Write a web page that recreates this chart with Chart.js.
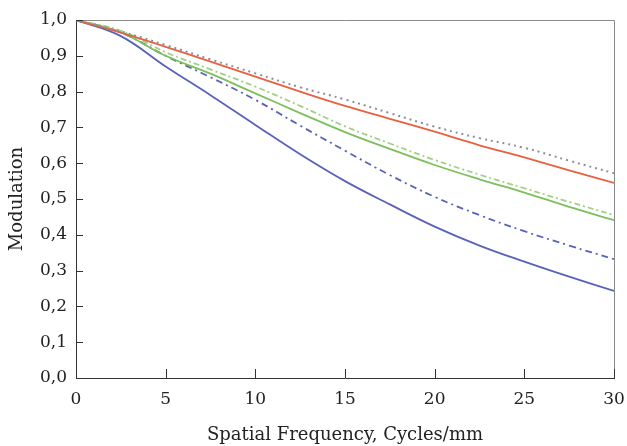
<!DOCTYPE html>
<html>
<head>
<meta charset="utf-8">
<script src="https://cdn.jsdelivr.net/npm/chart.js@4.4.1/dist/chart.umd.min.js"></script>
<style>
  html, body { margin: 0; padding: 0; background: #fff; }
  #wrap { width: 627px; height: 446px; }
</style>
</head>
<body>
<div id="wrap"><canvas id="mtf"></canvas></div>
<script>
// Datos
const frecuencias = [0, 2.5, 5, 7.5, 10, 12.5, 15, 17.5, 20, 22.5, 25, 27.5, 30];
const rojoSolido  = [1.0, 0.965, 0.925, 0.884, 0.842, 0.800, 0.760, 0.724, 0.688, 0.650, 0.616, 0.580, 0.545];
const grisPuntos  = [1.0, 0.968, 0.930, 0.890, 0.851, 0.812, 0.778, 0.740, 0.702, 0.670, 0.643, 0.607, 0.572];
const verdeSolido = [1.0, 0.965, 0.900, 0.850, 0.795, 0.740, 0.687, 0.640, 0.595, 0.555, 0.518, 0.478, 0.441];
const verdeGuion  = [1.0, 0.970, 0.910, 0.862, 0.814, 0.760, 0.703, 0.655, 0.609, 0.568, 0.530, 0.492, 0.455];
const azulGuion   = [1.0, 0.965, 0.900, 0.840, 0.777, 0.705, 0.635, 0.567, 0.506, 0.455, 0.410, 0.370, 0.332];
const azulSolido  = [1.0, 0.955, 0.870, 0.790, 0.707, 0.625, 0.550, 0.485, 0.423, 0.370, 0.325, 0.283, 0.243];
const ticksX = [0, 5, 10, 15, 20, 25, 30];

const puntos = (vals) => vals.map((v, i) => ({ x: frecuencias[i], y: v }));

const serie = (vals, color, dash, width) => ({
  data: puntos(vals),
  borderColor: color,
  borderWidth: width,
  borderDash: dash,
  pointRadius: 0,
  fill: false,
  tension: 0.4
});

const fuente = "'DejaVu Serif', serif";

// Marco gris arriba/derecha y marcas hacia dentro
const marco = {
  id: "marco",
  afterDraw(chart) {
    const { ctx, chartArea: a, scales } = chart;
    ctx.save();
    ctx.lineWidth = 1;
    ctx.strokeStyle = "#8a8a8a";
    ctx.beginPath();
    ctx.moveTo(a.left, a.top + 0.5);
    ctx.lineTo(a.right + 0.5, a.top + 0.5);
    ctx.lineTo(a.right + 0.5, a.bottom);
    ctx.stroke();
    ctx.strokeStyle = "#333";
    ctx.beginPath();
    scales.x.ticks.forEach(t => {
      const px = Math.round(scales.x.getPixelForValue(t.value)) + 0.5;
      ctx.moveTo(px, a.bottom);
      ctx.lineTo(px, a.bottom - 9);
    });
    scales.y.ticks.forEach(t => {
      const py = Math.round(scales.y.getPixelForValue(t.value)) + 0.5;
      ctx.moveTo(a.left, py);
      ctx.lineTo(a.left + 7, py);
    });
    ctx.stroke();
    ctx.restore();
  }
};

new Chart(document.getElementById("mtf"), {
  type: "line",
  data: {
    datasets: [
      serie(grisPuntos, "#8c8f99", [2, 4], 2),
      serie(rojoSolido, "#e8603f", [], 1.8),
      serie(verdeGuion, "#a3cf86", [6, 3, 2, 3], 1.8),
      serie(verdeSolido, "#7cbf5c", [], 1.8),
      serie(azulGuion, "#5a62b5", [7, 4, 2, 4], 1.8),
      serie(azulSolido, "#5a62b8", [], 1.8)
    ]
  },
  options: {
    responsive: true,
    maintainAspectRatio: false,
    animation: false,
    layout: { padding: { top: 20, right: 13, left: 0, bottom: 0 } },
    plugins: {
      legend: { display: false },
      tooltip: { enabled: false }
    },
    scales: {
      x: {
        type: "linear",
        min: 0,
        max: 30,
        afterFit: (s) => { s.height = 68; s.paddingRight = 0; s.paddingLeft = 0; },
        afterBuildTicks: (s) => { s.ticks = ticksX.map(v => ({ value: v })); },
        grid: { display: false, drawTicks: false },
        border: { display: true, color: "#333", width: 1 },
        ticks: { padding: 11, color: "#222", font: { family: fuente, size: 17 } },
        title: {
          display: true,
          text: "Spatial Frequency, Cycles/mm",
          color: "#222",
          padding: { top: 0, bottom: 0 },
          font: { family: fuente, size: 18 }
        }
      },
      y: {
        min: 0,
        max: 1,
        afterFit: (s) => { s.width = 76; },
        grid: { display: false, drawTicks: false },
        border: { display: true, color: "#333", width: 1 },
        ticks: {
          stepSize: 0.1,
          padding: 9,
          color: "#222",
          font: { family: fuente, size: 17 },
          callback: (v) => v.toFixed(1).replace(".", ",")
        },
        title: {
          display: true,
          text: "Modulation",
          color: "#222",
          padding: { top: 7, bottom: 0 },
          font: { family: fuente, size: 18 }
        }
      }
    }
  },
  plugins: [marco]
});
</script>
</body>
</html>
